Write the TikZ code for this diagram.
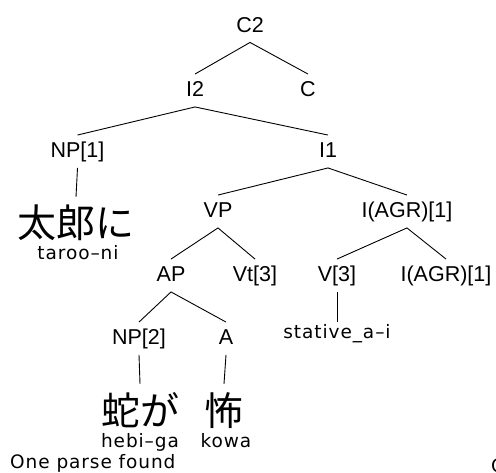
\documentclass[tikz,border=0pt]{standalone}
\usepackage{fontspec}
\setmainfont{Liberation Sans}
\newfontfamily\jpfont{Noto Sans CJK JP}
\newfontfamily\smallfont[LetterSpace=5]{DejaVu Sans}
\tikzset{
  lbl/.style={anchor=base, font=\fontsize{21.5}{24}\selectfont, text height=15.5pt, text depth=3pt, inner xsep=0pt, inner ysep=7pt},
  jp/.style={anchor=base, font=\jpfont\fontsize{39}{42}\selectfont, text height=33pt, text depth=0pt, inner xsep=0pt, inner ysep=8pt},
  rom/.style={anchor=base, font=\smallfont\fontsize{18.5}{21}\selectfont, inner xsep=0pt, inner ysep=5pt, text height=12pt, text depth=0pt},
  br/.style={line width=0.9pt, black}
}
\begin{document}
\begin{tikzpicture}[x=1pt,y=-1pt]
\useasboundingbox (0,0) rectangle (496,473);
% labels
\node[lbl] (c2) at (250,32.25) {C2};
\node[lbl] (i2) at (195,96.75) {I2};
\node[lbl] (c) at (308,96.75) {C};
\node[lbl] (np1) at (77.5,157.75) {NP[1]};
\node[lbl] (i1) at (328,157.75) {I1};
\node[lbl] (vp) at (218,217.75) {VP};
\node[lbl] (iagr) at (407,217.75) {I(AGR)[1]};
\node[lbl] (ap) at (171,281.75) {AP};
\node[lbl] (vt3) at (255,281.75) {Vt[3]};
\node[lbl] (v3) at (337,281.75) {V[3]};
\node[lbl] (iagrb) at (446,281.75) {I(AGR)[1]};
\node[lbl] (np2) at (139,344.75) {NP[2]};
\node[lbl] (a) at (226,344.75) {A};
% leaves
\node[jp] (taro) at (76,238) {太郎に};
\node[rom] (taror) at (78,260) {taroo–ni};
\node[rom] (stat) at (337,339) {stative\_a–i};
\node[jp] (hebi) at (140,425) {蛇が};
\node[jp] (kowa) at (224,425) {怖};
\node[rom] (hebir) at (140,447) {hebi–ga};
\node[rom] (kowar) at (226,447) {kowa};
\node[rom, anchor=base west] (msg) at (10,468) {One parse found};
\node[rom, anchor=base west] (cut) at (491,472) {C};
% branches
\draw[br] (i2.north) -- (c2.south) -- (c.north);
\draw[br] (np1.north) -- (i2.south) -- (i1.north);
\draw[br] (np1.south) -- (taro.north);
\draw[br] (vp.north) -- (i1.south) -- (iagr.north);
\draw[br] (ap.north) -- (vp.south) -- (vt3.north);
\draw[br] (v3.north) -- (iagr.south) -- (iagrb.north);
\draw[br] (v3.south) -- (stat.north);
\draw[br] (np2.north) -- (ap.south) -- (a.north);
\draw[br] (np2.south) -- (hebi.north);
\draw[br] (a.south) -- (kowa.north);
\end{tikzpicture}
\end{document}
